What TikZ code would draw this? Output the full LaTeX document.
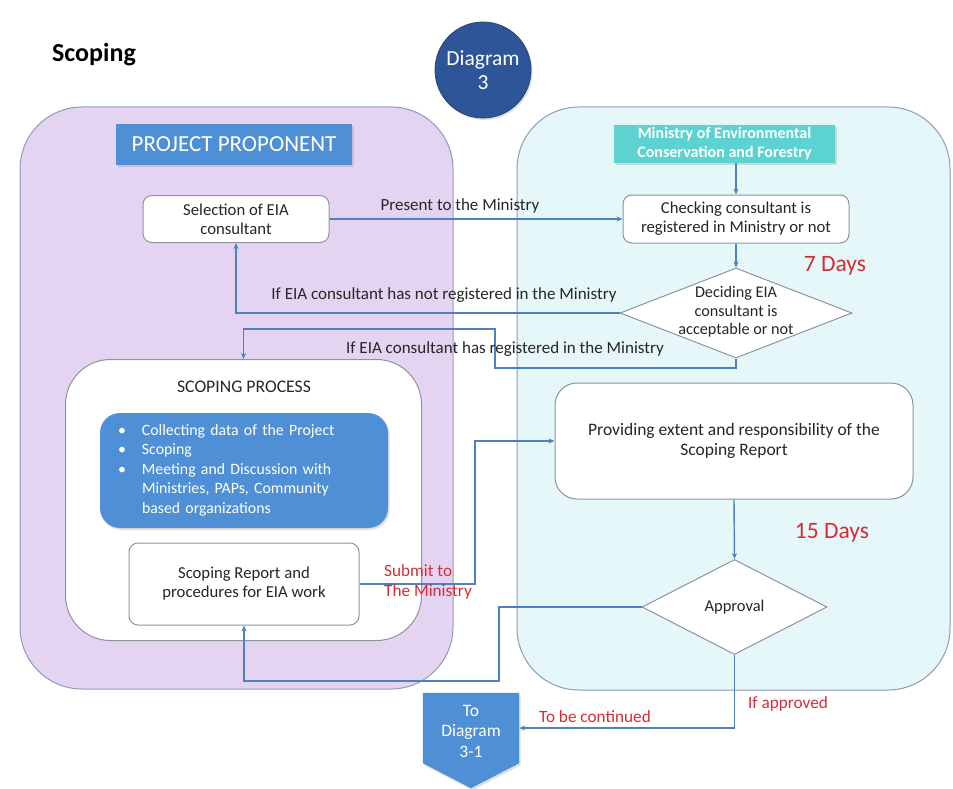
\documentclass[tikz,border=0pt]{standalone}
\usepackage{fontspec}
\setmainfont{Carlito}
\usetikzlibrary{shapes.geometric,arrows.meta,shadows,calc}
\definecolor{lav}{HTML}{E4D4F2}
\definecolor{cyanbg}{HTML}{E5F7F8}
\definecolor{framec}{HTML}{8E9CB8}
\definecolor{bluebox}{HTML}{4F8FD6}
\definecolor{turq}{HTML}{5CD3D0}
\definecolor{navy}{HTML}{2D5597}
\definecolor{connblue}{HTML}{4F81BD}
\definecolor{redt}{HTML}{D42E34}
\definecolor{boxline}{HTML}{8E9499}
\definecolor{txt}{HTML}{262626}
\begin{document}
\begin{tikzpicture}[x=1pt,y=-1pt,
  bigbox/.style={draw=framec, line width=1pt, rounded corners=62pt, inner sep=0pt},
  whitebox/.style={draw=boxline, line width=1pt, fill=white, rounded corners=9pt, align=center,
    text=txt, font=\fontsize{16.7}{19}\selectfont, inner sep=0pt},
  decide/.style={diamond, draw=boxline, line width=1pt, fill=white, inner sep=0pt},
  link/.style={draw=connblue, line width=1.4pt, -{Stealth[length=6pt,width=5pt]}},
  lbl/.style={text=txt, font=\fontsize{17}{19}\selectfont, inner sep=0pt},
  redlbl/.style={text=redt, font=\fontsize{17.2}{20}\selectfont, inner sep=0pt},
  dayslbl/.style={text=redt, font=\fontsize{23.5}{26}\selectfont, inner sep=0pt},
  shade/.style={drop shadow={opacity=0.25, shadow xshift=1.5pt, shadow yshift=-2pt}}
]
\useasboundingbox (0,0) rectangle (953,789);
\fill[white] (0,0) rectangle (953,789);

% big panels
\node[bigbox, fill=lav, minimum width=433pt, minimum height=582pt] (leftpanel) at (236.5,398) {};
\node[bigbox, fill=cyanbg, minimum width=433pt, minimum height=583pt] (rightpanel) at (733.5,398.5) {};

% title and badge
\node[font=\bfseries\fontsize{26}{28}\selectfont, text=black, inner sep=0pt] (title) at (94,55) {Scoping};
\node[circle, fill=navy, draw=navy!80!black, line width=0.8pt, minimum size=96pt, inner sep=0pt, shade,
  text=white, align=center, font=\fontsize{21.5}{24}\selectfont] (badge) at (483,70) {Diagram\\3};

% headers
\node[fill=bluebox, shade, minimum width=236pt, minimum height=41pt, inner sep=0pt,
  text=white, font=\fontsize{23}{26}\selectfont] (proponent) at (234,144.5) {PROJECT PROPONENT};
\node[fill=turq, shade, minimum width=221pt, minimum height=38pt, inner sep=0pt, align=center,
  text=white, font=\bfseries\fontsize{16}{19}\selectfont] (ministry) at (724.5,144) {Ministry of Environmental\\Conservation and Forestry};

% process boxes
\node[whitebox, minimum width=186pt, minimum height=47pt] (selection) at (236,219) {Selection of EIA\\consultant};
\node[whitebox, minimum width=226pt, minimum height=48pt] (checking) at (736,219) {Checking consultant is\\registered in Ministry or not};
\node[decide, minimum width=232pt, minimum height=90pt] (deciding) at (736,313) {};
\node[text=txt, align=center, inner sep=0pt, font=\fontsize{16.2}{18.5}\selectfont] (decidingtext) at (736,312) {Deciding EIA\\consultant is\\acceptable or not};

\node[draw=boxline, line width=1pt, fill=white, rounded corners=45pt, minimum width=356pt, minimum height=281pt] (scoping) at (243.5,500) {};
\node[text=txt, font=\fontsize{17.7}{20}\selectfont, inner sep=0pt] (scopingtitle) at (244,387) {SCOPING PROCESS};
\node[fill=bluebox, rounded corners=20pt, shade, minimum width=288pt, minimum height=115pt,
  inner xsep=18pt, inner ysep=0pt, text width=252pt, align=left, text=white,
  font=\fontsize{15.8}{19.5}\selectfont] (activities) at (244,470.5)
  {\begin{tabular}{@{}p{24pt}@{}l@{}}
   \textbullet & Collecting data of the Project\\
   \textbullet & Scoping\\
   \textbullet & Meeting and Discussion with\\
    & Ministries, PAPs, Community\\
    & based organizations
   \end{tabular}};
\node[whitebox, minimum width=230pt, minimum height=82pt] (report) at (244,584) {Scoping Report and\\procedures for EIA work};

\node[whitebox, rounded corners=22pt, minimum width=358pt, minimum height=116pt,
  font=\fontsize{17.5}{20}\selectfont] (providing) at (734,441) {Providing extent and responsibility of the\\Scoping Report};
\node[decide, minimum width=185pt, minimum height=95pt] (approval) at (734.5,607) {};
\node[text=txt, inner sep=0pt, font=\fontsize{16.5}{18}\selectfont] (approvaltext) at (734.5,607) {Approval};

% off-page connector
\node[minimum width=96pt, minimum height=70pt, inner sep=0pt] (todiag) at (471,728) {};
\fill[bluebox, shade] (todiag.north west) -- (todiag.north east) -- (todiag.south east)
  -- ($(todiag.south)+(0,25)$) -- (todiag.south west) -- cycle;
\node[text=white, align=center, font=\fontsize{17.5}{20.5}\selectfont, inner sep=0pt] (todiagtext) at (471,731) {To\\Diagram\\3-1};

% connectors
\coordinate (sbx) at (475,0);
\draw[link] (checking.north |- ministry.south) -- (checking.north);
\draw[link] (selection.east) -- (checking.west);
\draw[link] (checking.south) -- (deciding.north);
\draw[link] (deciding.west) -| (selection.south);
\draw[link] (deciding.south) |- (495,368) -- (495,329) -| (scoping.north);
\draw[link] (report.east) -| (sbx |- providing.west) -- (providing.west);
\draw[link] (providing.south) -- (approval.north);
\draw[link] (approval.west) -| (499,681) -| (report.south);
\draw[link] (approval.south) |- (todiag.east);

% labels
\node[lbl] (l1) at (460,206) {Present to the Ministry};
\node[lbl] (l2) at (444,295) {If EIA consultant has not registered in the Ministry};
\node[lbl] (l3) at (505,349) {If EIA consultant has registered in the Ministry};
\node[redlbl, anchor=west, align=left] (l4) at (384,582) {Submit to\\The Ministry};
\node[dayslbl] (d7) at (835,266) {7 Days};
\node[dayslbl] (d15) at (832,533) {15 Days};
\node[redlbl] (l5) at (788,704) {If approved};
\node[redlbl] (l6) at (595,717) {To be continued};
\end{tikzpicture}
\end{document}
